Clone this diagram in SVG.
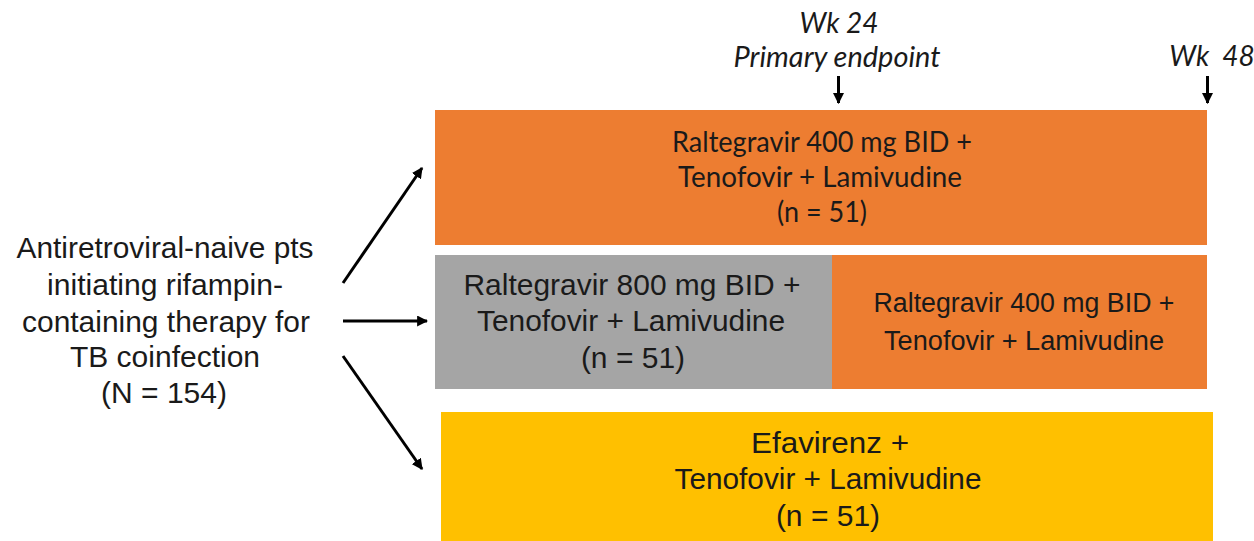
<svg xmlns="http://www.w3.org/2000/svg" width="1254" height="541" viewBox="0 0 1254 541">
<style>
.t{font-family:"Liberation Sans",Arial,sans-serif;fill:#1a1a1a;text-anchor:middle}
.c{font-family:Lato,"Open Sans",sans-serif;fill:#1a1a1a;text-anchor:middle}
.i{font-family:Lato,"Open Sans",sans-serif;font-style:italic;fill:#1a1a1a;text-anchor:middle;font-size:28px;white-space:pre}
.ln{stroke:#000;stroke-width:3;fill:none}
</style>
<defs>
<marker id="ah" viewBox="0 0 10 10" refX="9" refY="5" markerWidth="11" markerHeight="11" markerUnits="userSpaceOnUse" orient="auto">
<path d="M0,0 L10,5 L0,10 Z" fill="#000"/>
</marker>
</defs>
<rect width="1254" height="541" fill="#fff"/>
<g id="timeline">
<text class="i" x="839" y="33">Wk 24</text>
<text class="i" x="837" y="67" textLength="207" lengthAdjust="spacingAndGlyphs">Primary endpoint</text>
<text class="i" x="1212" y="66">Wk  48</text>
</g>
<g id="connectors">
<line class="ln" x1="838.5" y1="76" x2="838.5" y2="103" marker-end="url(#ah)"/>
<line class="ln" x1="1207.5" y1="76" x2="1207.5" y2="103" marker-end="url(#ah)"/>
<line class="ln" x1="343" y1="283" x2="422" y2="168" marker-end="url(#ah)"/>
<line class="ln" x1="343" y1="321" x2="427" y2="321" marker-end="url(#ah)"/>
<line class="ln" x1="343" y1="356" x2="422" y2="469" marker-end="url(#ah)"/>
</g>
<g id="source">
<text class="t" font-size="30" x="165" y="258" textLength="297" lengthAdjust="spacingAndGlyphs">Antiretroviral-naive pts</text>
<text class="t" font-size="30" x="165" y="295" textLength="236" lengthAdjust="spacingAndGlyphs">initiating rifampin-</text>
<text class="t" font-size="30" x="166" y="332" textLength="288" lengthAdjust="spacingAndGlyphs">containing therapy for</text>
<text class="t" font-size="30" x="165" y="367">TB coinfection</text>
<text class="t" font-size="30" x="164" y="403">(N = 154)</text>
</g>
<g id="arm1">
<rect x="435" y="110" width="772" height="135" fill="#ED7D31"/>
<text class="c" font-size="28" x="822" y="152" textLength="300" lengthAdjust="spacingAndGlyphs">Raltegravir 400 mg BID +</text>
<text class="c" font-size="28" x="820" y="187" textLength="284" lengthAdjust="spacingAndGlyphs">Tenofovir + Lamivudine</text>
<text class="c" font-size="28" x="822" y="222" textLength="90" lengthAdjust="spacingAndGlyphs">(n = 51)</text>
</g>
<g id="arm2a">
<rect x="435" y="255" width="398" height="134" fill="#A5A5A5"/>
<text class="t" font-size="30" x="632" y="295" textLength="337" lengthAdjust="spacingAndGlyphs">Raltegravir 800 mg BID +</text>
<text class="t" font-size="30" x="631" y="331" textLength="308" lengthAdjust="spacingAndGlyphs">Tenofovir + Lamivudine</text>
<text class="t" font-size="30" x="633" y="368">(n = 51)</text>
</g>
<g id="arm2b">
<rect x="832" y="255" width="375" height="134" fill="#ED7D31"/>
<text class="t" font-size="27" x="1024" y="312" textLength="301" lengthAdjust="spacingAndGlyphs">Raltegravir 400 mg BID +</text>
<text class="t" font-size="27" x="1024" y="350" textLength="280" lengthAdjust="spacingAndGlyphs">Tenofovir + Lamivudine</text>
</g>
<g id="arm3">
<rect x="441" y="412" width="772" height="129" fill="#FFC000"/>
<text class="t" font-size="30" x="830" y="453" textLength="158" lengthAdjust="spacingAndGlyphs">Efavirenz +</text>
<text class="t" font-size="30" x="828" y="489" textLength="307" lengthAdjust="spacingAndGlyphs">Tenofovir + Lamivudine</text>
<text class="t" font-size="30" x="828" y="526">(n = 51)</text>
</g>
</svg>
